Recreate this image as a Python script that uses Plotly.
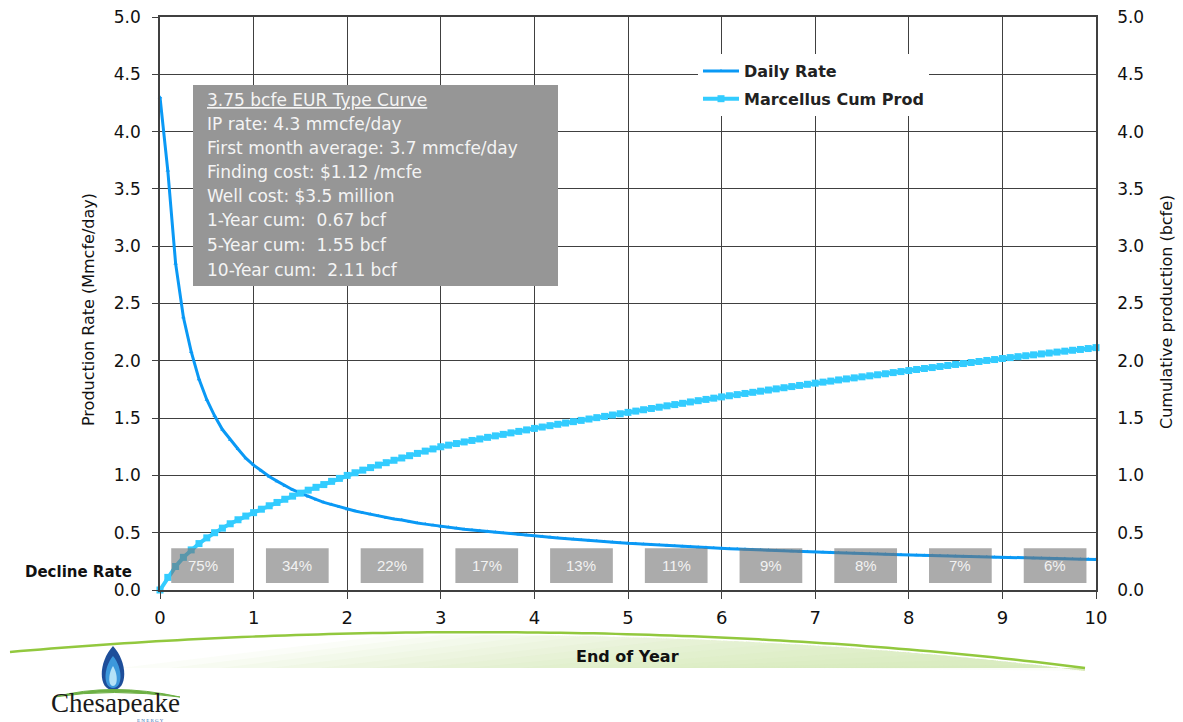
import plotly.graph_objects as go

# ---------------- data ----------------
months = list(range(121))
years = [m / 12 for m in months]

daily_rate = [
    4.30, 3.66, 2.85, 2.38, 2.08, 1.84, 1.66, 1.52, 1.40, 1.31, 1.23, 1.15, 1.09,
    1.04, 0.99, 0.95, 0.91, 0.875, 0.845, 0.815, 0.79, 0.765, 0.745, 0.725, 0.705,
    0.69, 0.675, 0.66, 0.645, 0.63, 0.62, 0.61, 0.595, 0.585, 0.575, 0.565, 0.555,
    0.547, 0.539, 0.531, 0.524, 0.517, 0.51, 0.503, 0.497, 0.49, 0.484, 0.478, 0.472,
    0.466, 0.46, 0.454, 0.448, 0.443, 0.437, 0.432, 0.427, 0.422, 0.417, 0.412, 0.407,
    0.403, 0.399, 0.395, 0.392, 0.388, 0.384, 0.38, 0.377, 0.374, 0.37, 0.367, 0.364,
    0.361, 0.358, 0.355, 0.352, 0.349, 0.347, 0.344, 0.341, 0.339, 0.336, 0.334, 0.331,
    0.329, 0.327, 0.325, 0.322, 0.32, 0.318, 0.316, 0.314, 0.312, 0.31, 0.308, 0.306,
    0.304, 0.302, 0.30, 0.298, 0.296, 0.294, 0.293, 0.291, 0.289, 0.288, 0.286, 0.284,
    0.283, 0.281, 0.28, 0.278, 0.277, 0.275, 0.274, 0.272, 0.271, 0.269, 0.268, 0.266,
]

cum_prod = [
    0.0, 0.11, 0.205, 0.285, 0.35, 0.405, 0.455, 0.50, 0.54, 0.578, 0.613, 0.645, 0.675,
    0.705, 0.735, 0.764, 0.792, 0.819, 0.845, 0.871, 0.896, 0.92, 0.948, 0.974, 1.0,
    1.023, 1.046, 1.068, 1.09, 1.111, 1.132, 1.152, 1.172, 1.192, 1.212, 1.231, 1.25,
    1.264, 1.278, 1.292, 1.305, 1.318, 1.332, 1.345, 1.358, 1.371, 1.384, 1.397, 1.41,
    1.422, 1.434, 1.446, 1.457, 1.469, 1.48, 1.492, 1.504, 1.515, 1.527, 1.538, 1.55,
    1.561, 1.573, 1.584, 1.595, 1.607, 1.618, 1.629, 1.641, 1.652, 1.663, 1.674, 1.685,
    1.695, 1.705, 1.715, 1.725, 1.735, 1.745, 1.755, 1.765, 1.775, 1.785, 1.795, 1.805,
    1.814, 1.823, 1.833, 1.842, 1.851, 1.86, 1.869, 1.878, 1.887, 1.897, 1.906, 1.915,
    1.924, 1.933, 1.941, 1.95, 1.959, 1.968, 1.976, 1.985, 1.994, 2.003, 2.011, 2.02,
    2.028, 2.036, 2.044, 2.052, 2.06, 2.068, 2.076, 2.084, 2.092, 2.099, 2.107, 2.115,
]

decline_years = [0, 1, 2, 3, 4, 5, 6, 7, 8, 9]
decline_rates = ["75%", "34%", "22%", "17%", "13%", "11%", "9%", "8%", "7%", "6%"]

info_lines = [
    "<u>3.75 bcfe EUR Type Curve</u>",
    "IP rate: 4.3 mmcfe/day",
    "First month average: 3.7 mmcfe/day",
    "Finding cost: $1.12 /mcfe",
    "Well cost: $3.5 million",
    "1-Year cum:  0.67 bcf",
    "5-Year cum:  1.55 bcf",
    "10-Year cum:  2.11 bcf",
]

x_ticks = list(range(0, 11))
y_ticks = [i * 0.5 for i in range(11)]

# ---------------- geometry helpers (pixel -> paper) ----------------
W, H = 1183, 722
L, R, T, B = 160, 87, 17, 132
PW, PH = W - L - R, H - T - B


def px(x):
    return (x - L) / PW


def py(y):
    return (H - B - y) / PH


def P(x, y):
    return f"{px(x):.5f},{py(y):.5f}"


GRID = "#404040"
DAILY = "#0A99F5"
CUM = "#33CCFF"
FONT = "DejaVu Sans"

fig = go.Figure()

fig.add_trace(go.Scatter(
    x=years, y=daily_rate, name="Daily Rate", mode="lines+markers",
    line=dict(color=DAILY, width=3),
    marker=dict(symbol="triangle-up", size=4, color=DAILY),
    cliponaxis=False, legendgroup="a",
))
fig.add_trace(go.Scatter(
    x=years, y=cum_prod, name="Marcellus Cum Prod", mode="lines+markers",
    line=dict(color=CUM, width=4),
    marker=dict(symbol="square", size=7, color=CUM),
    yaxis="y2", cliponaxis=False, legendgroup="b",
))

shapes = []
annotations = []


def note(xp, yp, text, **kw):
    d = dict(xref="paper", yref="paper", x=px(xp), y=py(yp), text=text, showarrow=False,
             xanchor="center", yanchor="middle")
    d.update(kw)
    annotations.append(d)


# info box
shapes.append(dict(type="rect", xref="paper", yref="paper",
                   x0=px(193), x1=px(558), y0=py(286), y1=py(85),
                   fillcolor="#969696", line=dict(width=0), layer="above"))
line_y = [100, 124, 148, 172, 196, 220, 245, 270]
for txt, yy in zip(info_lines, line_y):
    note(205, yy, txt, xanchor="left",
         font=dict(family=FONT, size=17, color="#F4F4F4"))

# decline rate boxes
for i, (yr, lab) in enumerate(zip(decline_years, decline_rates)):
    x0 = yr + 0.12 + 0.012 * i
    x1 = x0 + 0.67
    shapes.append(dict(type="rect", xref="x", yref="y", x0=x0, x1=x1, y0=0.06, y1=0.365,
                       fillcolor="rgba(115,115,115,0.6)", line=dict(width=0), layer="above"))
    annotations.append(dict(xref="x", yref="y", x=(x0 + x1) / 2, y=0.21, text=lab,
                            showarrow=False, xanchor="center", yanchor="middle",
                            font=dict(family="Liberation Sans", size=15, color="#F2F2F2")))

note(78, 572, "<b>Decline Rate</b>", font=dict(family=FONT, size=15, color="#111111"))

# axis titles
note(88, 310, "Production Rate (Mmcfe/day)", textangle=-90,
     font=dict(family=FONT, size=16, color="#111111"))
note(1166, 312, "Cumulative production (bcfe)", textangle=-90,
     font=dict(family=FONT, size=16, color="#111111"))


# green swoosh + graded fill
def bez(t, p0=(10, 652), p1=(350, 622), p2=(750, 625), p3=(1085, 668)):
    u = 1 - t
    x = u**3 * p0[0] + 3 * u * u * t * p1[0] + 3 * u * t * t * p2[0] + t**3 * p3[0]
    y = u**3 * p0[1] + 3 * u * u * t * p1[1] + 3 * u * t * t * p2[1] + t**3 * p3[1]
    return x, y


curve_pts = [bez(k / 100) for k in range(101)]
for xs in range(120, 1000, 50):
    pts = [(x, y + 3) for (x, y) in curve_pts if x >= xs + 260]
    if not pts:
        continue
    path = f"M {P(xs, 668)} " + " ".join(f"L {P(x, y)}" for x, y in pts) + f" L {P(1085, 668)} Z"
    shapes.append(dict(type="path", xref="paper", yref="paper", path=path,
                       fillcolor="rgba(200,224,160,0.08)", line=dict(width=0), layer="below"))
curve = "M " + " L ".join(P(x, y) for x, y in curve_pts)
shapes.append(dict(type="path", xref="paper", yref="paper", path=curve,
                   line=dict(color="#92C83E", width=2.5), layer="below"))

note(627, 656, "<b>End of Year</b>", font=dict(family=FONT, size=16, color="#111111"))

# logo
shapes.append(dict(type="path", xref="paper", yref="paper",
                   path=f"M {P(113,646)} C {P(128,662)} {P(128,690)} {P(113,690)} C {P(98,690)} {P(98,662)} {P(113,646)} Z",
                   fillcolor="#1E4E9A", line=dict(width=0)))
shapes.append(dict(type="path", xref="paper", yref="paper",
                   path=f"M {P(113,656)} C {P(123,668)} {P(123,688)} {P(113,688)} C {P(103,688)} {P(103,668)} {P(113,656)} Z",
                   fillcolor="#3C98DC", line=dict(width=0)))
shapes.append(dict(type="path", xref="paper", yref="paper",
                   path=f"M {P(113,666)} C {P(118,674)} {P(118,686)} {P(113,686)} C {P(108,686)} {P(108,674)} {P(113,666)} Z",
                   fillcolor="#B5E2F7", line=dict(width=0)))
shapes.append(dict(type="path", xref="paper", yref="paper",
                   path=f"M {P(54,697)} Q {P(112,682)} {P(180,697)} Q {P(112,688)} {P(54,697)} Z",
                   fillcolor="#6DB044", line=dict(color="#6DB044", width=1)))
note(115, 703, "Chesapeake", height=24,
     font=dict(family="Liberation Serif", size=27, color="#1A1A1A"))
note(150, 720, "E N E R G Y", height=4,
     font=dict(family="Liberation Serif", size=5, color="#2A6AB0"))

fig.update_layout(
    width=W, height=H,
    margin=dict(l=L, r=R, t=T, b=B, pad=0, autoexpand=False),
    paper_bgcolor="white", plot_bgcolor="white",
    font=dict(family=FONT, color="#111111"),
    shapes=shapes, annotations=annotations,
    showlegend=True,
    legend=dict(x=px(698), y=py(54), xanchor="left", yanchor="top",
                bgcolor="white", borderwidth=0,
                font=dict(family=FONT, size=16, color="#222222", weight="bold"),
                tracegroupgap=4, itemwidth=36),
    xaxis=dict(range=[0, 10], tickvals=x_ticks, ticktext=[str(v) for v in x_ticks],
               showgrid=True, gridcolor=GRID, gridwidth=1.2, automargin=False,
               showline=True, linecolor=GRID, linewidth=1.5, mirror=True,
               ticks="outside", ticklen=7, tickcolor=GRID, zeroline=False,
               tickfont=dict(family=FONT, size=18, color="#111111"), ticklabelstandoff=4),
    yaxis=dict(range=[0, 5], tickvals=y_ticks, ticktext=[f"{v:.1f}" for v in y_ticks],
               showgrid=True, gridcolor=GRID, gridwidth=1.2, automargin=False,
               showline=True, linecolor=GRID, linewidth=1.5,
               ticks="outside", ticklen=6, tickcolor=GRID, zeroline=False,
               tickfont=dict(family=FONT, size=17, color="#111111"), ticklabelstandoff=8),
    yaxis2=dict(range=[0, 5], tickvals=y_ticks, ticktext=[f"{v:.1f}" for v in y_ticks],
                overlaying="y", side="right", showgrid=False, automargin=False,
                showline=True, linecolor=GRID, linewidth=1.5, ticks="", zeroline=False,
                tickfont=dict(family=FONT, size=17, color="#111111"), ticklabelstandoff=16),
)

fig.write_html("out.html")
